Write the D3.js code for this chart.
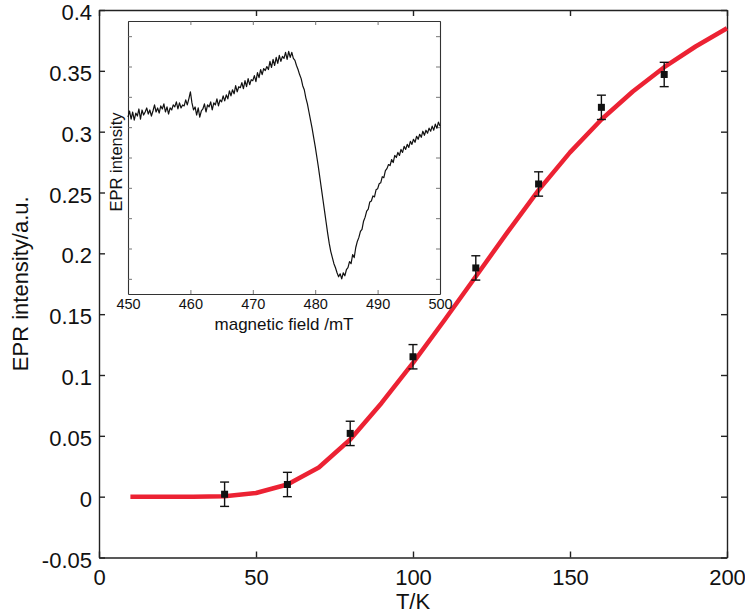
<!DOCTYPE html>
<html>
<head>
<meta charset="utf-8">
<script src="https://cdn.jsdelivr.net/npm/d3@7"></script>
<style>
  html, body { margin: 0; padding: 0; background: #fff; }
  svg { display: block; }
  text { font-family: "Liberation Sans", Arial, Helvetica, sans-serif; fill: #111; }
</style>
</head>
<body>
<svg id="chart" width="745" height="616"></svg>
<script>
// ---------------- DATA ----------------
// Main plot: measured points (T / K, EPR intensity / a.u., error)
const pointT = [40, 60, 80, 100, 120, 140, 160, 180];
const pointI = [0.002, 0.010, 0.052, 0.115, 0.188, 0.257, 0.320, 0.347];
const pointErr = [0.010, 0.010, 0.010, 0.010, 0.010, 0.010, 0.010, 0.010];

// Main plot: fitted curve (red)
const fitT = [10, 20, 30, 40, 50, 60, 70, 80, 90, 100, 110, 120, 130, 140, 150, 160, 170, 180, 190, 200];
const fitI = [0.000, 0.000, 0.000, 0.0003, 0.003, 0.010, 0.024, 0.047, 0.077, 0.110, 0.145, 0.181, 0.217, 0.252, 0.283, 0.310, 0.333, 0.353, 0.370, 0.385];

// Main axes ticks
const xTicks = [0, 50, 100, 150, 200];
const xTickLabels = ["0", "50", "100", "150", "200"];
const yTicks = [-0.05, 0, 0.05, 0.1, 0.15, 0.2, 0.25, 0.3, 0.35, 0.4];
const yTickLabels = ["-0.05", "0", "0.05", "0.1", "0.15", "0.2", "0.25", "0.3", "0.35", "0.4"];

// Inset: EPR spectrum, field from 450 mT in 0.25 mT steps
const fieldStart = 450;
const fieldStep = 0.25;
const spectrum = [
  40,46,38,45, 37,44,41,48, 38,47,42,45, 49,43,47,41, 46,52,45,49,
  44,51,48,53, 45,50,43,49, 47,52,50,55, 48,54,49,52, 51,57,52,58,
  65,54,47,50, 42,49,40,46, 48,53,45,52, 50,55,47,54, 52,58,51,57,
  55,61,56,62, 58,66,61,67, 63,71,65,70, 69,74,68,76, 70,78,72,77,
  76,81,75,84, 79,87,82,88, 86,90,87,95, 89,97,91,99, 93,101,95,100,
  98,104,97,105, 99,104,98,96, 91,87,82,78, 71,67,59,53, 45,37,29,20,
  11,1,-9,-20, -31,-42,-53,-64, -75,-85,-93,-99, -105,-109,-114,-118, -115,-120,-114,-117,
  -111,-109,-103,-105, -96,-99,-89,-83, -79,-73,-71,-63, -59,-53,-51,-44, -43,-38,-39,-32,
  -31,-26,-25,-19, -20,-13,-11,-7, -8,-2,-5,2, 0,5,2,8, 5,11,8,13,
  10,16,13,18, 15,21,18,23, 20,26,22,27, 24,29,26,31, 27,33,29,35,
  31
];
const insetXTicks = [450, 460, 470, 480, 490, 500];
const insetXTickLabels = ["450", "460", "470", "480", "490", "500"];
const insetYTicks = [-120, -90, -60, -30, 0, 30, 60, 90, 120];

// ---------------- DRAW ----------------
const svg = d3.select("#chart");
const M = { left: 99, right: 727, top: 10, bottom: 557.5 };

const x = d3.scaleLinear().domain([0, 200]).range([M.left, M.right]);
const y = d3.scaleLinear().domain([-0.05, 0.4]).range([M.bottom, M.top]);

const axisColor = "#222";
function styleAxis(g, sw) {
  g.selectAll("path.domain").attr("stroke", axisColor).attr("stroke-width", sw);
  g.selectAll(".tick line").attr("stroke", axisColor).attr("stroke-width", sw);
}

// Left axis
const gL = svg.append("g").attr("transform", `translate(${M.left},0)`)
  .call(d3.axisLeft(y).tickValues(yTicks).tickSizeInner(-6).tickSizeOuter(0).tickPadding(7)
    .tickFormat((d, i) => yTickLabels[i]));
gL.selectAll(".tick text").attr("font-size", 22).attr("font-family", "Liberation Sans, Arial, sans-serif")
  .attr("fill", "#111").attr("y", 2.5);
styleAxis(gL, 1.4);

// Right axis
const gR = svg.append("g").attr("transform", `translate(${M.right},0)`)
  .call(d3.axisRight(y).tickValues(yTicks).tickSizeInner(-6).tickSizeOuter(0).tickFormat(""));
styleAxis(gR, 1.4);

// Bottom axis
const gB = svg.append("g").attr("transform", `translate(0,${M.bottom})`)
  .call(d3.axisBottom(x).tickValues(xTicks).tickSizeInner(-6).tickSizeOuter(0).tickPadding(12)
    .tickFormat((d, i) => xTickLabels[i]));
gB.selectAll(".tick text").attr("font-size", 22).attr("font-family", "Liberation Sans, Arial, sans-serif").attr("fill", "#111");
styleAxis(gB, 1.4);

// Top axis
const gT = svg.append("g").attr("transform", `translate(0,${M.top})`)
  .call(d3.axisTop(x).tickValues(xTicks).tickSizeInner(-6).tickSizeOuter(0).tickFormat(""));
styleAxis(gT, 1.4);

// Axis titles
svg.append("text").attr("x", (M.left + M.right) / 2).attr("y", 609)
  .attr("text-anchor", "middle").attr("font-size", 22).text("T/K");
svg.append("text").attr("transform", `translate(28,${(M.top + M.bottom) / 2}) rotate(-90)`)
  .attr("text-anchor", "middle").attr("font-size", 22).text("EPR intensity/a.u.");

// Fit curve
const fitData = fitT.map((t, i) => [t, fitI[i]]);
svg.append("path").datum(fitData)
  .attr("fill", "none").attr("stroke", "#ec2233").attr("stroke-width", 4.5)
  .attr("stroke-linejoin", "round")
  .attr("d", d3.line().x(d => x(d[0])).y(d => y(d[1])));

// Error bars + squares
const pts = pointT.map((t, i) => ({ t, v: pointI[i], e: pointErr[i] }));
const eg = svg.append("g").attr("stroke", "#111").attr("stroke-width", 1.4);
pts.forEach(p => {
  const cx = x(p.t);
  eg.append("line").attr("x1", cx).attr("x2", cx).attr("y1", y(p.v + p.e)).attr("y2", y(p.v - p.e));
  eg.append("line").attr("x1", cx - 4.5).attr("x2", cx + 4.5).attr("y1", y(p.v + p.e)).attr("y2", y(p.v + p.e));
  eg.append("line").attr("x1", cx - 4.5).attr("x2", cx + 4.5).attr("y1", y(p.v - p.e)).attr("y2", y(p.v - p.e));
});
svg.append("g").selectAll("rect").data(pts).join("rect")
  .attr("x", d => x(d.t) - 3.5).attr("y", d => y(d.v) - 3.5)
  .attr("width", 7).attr("height", 7).attr("fill", "#111");

// ---------------- INSET ----------------
const I = { left: 128, right: 440, top: 21, bottom: 294 };
const ix = d3.scaleLinear().domain([450, 500]).range([I.left, I.right]);
const iy = d3.scaleLinear().domain([-135, 135]).range([I.bottom, I.top]);

svg.append("rect").attr("x", I.left).attr("y", I.top)
  .attr("width", I.right - I.left).attr("height", I.bottom - I.top)
  .attr("fill", "#fff");

const inColor = "#333";
function styleInset(g) {
  g.selectAll("path.domain").attr("stroke", inColor).attr("stroke-width", 1.1);
  g.selectAll(".tick line").attr("stroke", "#666").attr("stroke-width", 0.9);
}
const iB = svg.append("g").attr("transform", `translate(0,${I.bottom})`)
  .call(d3.axisBottom(ix).tickValues(insetXTicks).tickSizeInner(-4).tickSizeOuter(0).tickPadding(5)
    .tickFormat((d, i) => insetXTickLabels[i]));
iB.selectAll(".tick text").attr("font-size", 14.5).attr("font-family", "Liberation Sans, Arial, sans-serif").attr("fill", "#111");
styleInset(iB);
const iT = svg.append("g").attr("transform", `translate(0,${I.top})`)
  .call(d3.axisTop(ix).tickValues(insetXTicks).tickSizeInner(-4).tickSizeOuter(0).tickFormat(""));
styleInset(iT);
const iL = svg.append("g").attr("transform", `translate(${I.left},0)`)
  .call(d3.axisLeft(iy).tickValues(insetYTicks).tickSizeInner(-4).tickSizeOuter(0).tickFormat(""));
styleInset(iL);
const iR = svg.append("g").attr("transform", `translate(${I.right},0)`)
  .call(d3.axisRight(iy).tickValues(insetYTicks).tickSizeInner(-4).tickSizeOuter(0).tickFormat(""));
styleInset(iR);

svg.append("text").attr("x", (I.left + I.right) / 2).attr("y", 330)
  .attr("text-anchor", "middle").attr("font-size", 17).text("magnetic field /mT");
svg.append("text").attr("transform", `translate(122,162) rotate(-90)`)
  .attr("text-anchor", "middle").attr("font-size", 16.5).text("EPR intensity");

const specData = spectrum.map((v, i) => [fieldStart + i * fieldStep, v]);
svg.append("path").datum(specData)
  .attr("fill", "none").attr("stroke", "#111").attr("stroke-width", 1.2)
  .attr("stroke-linejoin", "round")
  .attr("d", d3.line().x(d => ix(d[0])).y(d => iy(d[1])));
</script>
</body>
</html>
